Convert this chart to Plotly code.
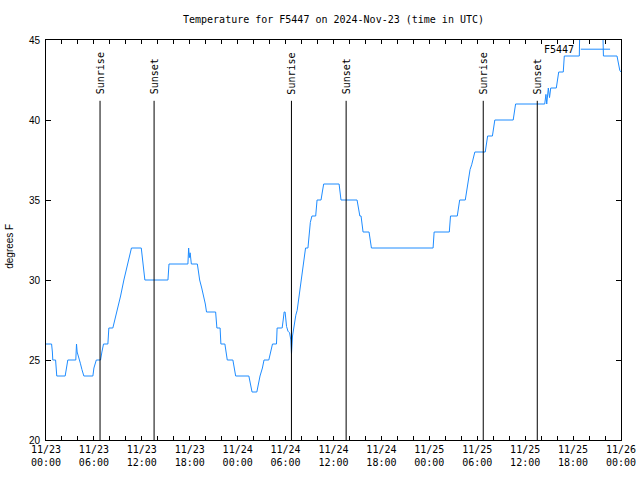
import pandas as pd
import plotly.graph_objects as go

START = "2024-11-23 00:00"
END = "2024-11-26 00:00"

# hours after 2024-11-23 00:00 UTC
hours = [0.0, 0.7, 0.8, 0.85, 1.2, 1.35, 2.4, 2.55, 2.73, 3.73,
         3.82, 3.9, 4.1, 4.3, 4.5, 4.74, 5.87, 6.0, 6.3, 6.83,
         7.0, 7.2, 7.75, 7.87, 8.37, 8.87, 9.34, 9.75, 10.2, 10.7,
         11.93, 12.1, 12.2, 12.38, 15.27, 15.4, 17.77, 17.86, 17.95, 18.05,
         18.2, 18.95, 19.1, 19.24, 19.5, 19.74, 19.95, 20.1, 21.24, 21.4,
         21.8, 21.9, 22.4, 22.7, 23.4, 23.75, 25.4, 25.8, 26.4, 26.6,
         26.8, 27.1, 27.3, 27.9, 28.24, 28.36, 28.86, 28.94, 29.49, 29.57,
         29.7, 29.82, 29.94, 30.03, 30.12, 30.3, 30.5, 30.66, 30.74, 30.87,
         31.03, 31.28, 31.45, 31.7, 32.0, 32.3, 32.5, 32.8, 32.95, 33.1,
         33.3, 33.77, 33.94, 34.44, 34.6, 34.77, 36.7, 36.94, 38.95, 39.1,
         39.3, 39.45, 39.7, 40.45, 40.75, 48.47, 48.6, 50.5, 50.65, 51.5,
         51.8, 52.5, 52.8, 53.1, 53.3, 53.5, 53.7, 55.0, 55.3, 55.9,
         56.2, 58.5, 58.8, 62.45, 62.6, 62.7, 62.8, 62.9, 63.05, 63.2,
         63.9, 64.2, 64.77, 64.9, 66.78, 66.85, 69.7, 69.8, 71.5, 71.7,
         71.85, 72.0]
temps = [26, 26, 25.5, 25, 25, 24, 24, 24.5, 25, 25,
         26, 25.5, 25.2, 24.8, 24.4, 24, 24, 24.5, 25, 25,
         25.5, 26, 26, 27, 27, 28, 29, 30, 31, 32,
         32, 31.3, 31, 30, 30, 31, 31, 32, 31.4, 31.7,
         31, 31, 30.5, 30, 29.5, 29, 28.5, 28, 28, 27,
         27, 26, 26, 25, 25, 24, 24, 23, 23, 23.5,
         24, 24.5, 25, 25, 25.7, 26, 26, 27, 27, 27,
         27.5, 28, 28, 27.5, 27.1, 26.8, 26.7, 26.25, 25.4, 26.5,
         27.1, 27.8, 28.1, 29, 30.1, 31, 32, 32, 33, 33.6,
         34, 34, 35, 35, 35.5, 36, 36, 35, 35, 34.5,
         34, 34, 33, 33, 32, 32, 33, 33, 34, 34,
         35, 35, 36, 36.9, 37.2, 37.6, 38, 38, 39, 39,
         40, 40, 41, 41, 41.6, 41, 41.6, 42, 41.4, 42,
         42, 43, 43, 44, 44, 46, 46, 44, 44, 43.5,
         43.1, 43]

sun_times = ["2024-11-23 06:46", "2024-11-23 13:32",
             "2024-11-24 06:44", "2024-11-24 13:35",
             "2024-11-25 06:45", "2024-11-25 13:31"]
sun_labels = ["Sunrise", "Sunset", "Sunrise", "Sunset", "Sunrise", "Sunset"]

y_ticks = [20, 25, 30, 35, 40, 45]
series_name = "F5447"

MONO = "DejaVu Sans Mono"
SANS = "Liberation Sans"
LINE_COLOR = "#1e8cff"

FIG_W, FIG_H = 640, 480

times = pd.Timestamp(START) + pd.to_timedelta(hours, unit="h")

fig = go.Figure()
fig.add_trace(go.Scatter(x=times, y=temps, mode="lines",
                         line=dict(color=LINE_COLOR, width=1),
                         showlegend=False, hoverinfo="skip"))

for t, lab in zip(sun_times, sun_labels):
    fig.add_shape(type="line", xref="x", yref="y", x0=t, x1=t, y0=20, y1=41.2,
                  line=dict(color="black", width=1))
    fig.add_annotation(x=t, y=41.55, xref="x", yref="y", text=lab, textangle=-90,
                       showarrow=False, xanchor="center", yanchor="bottom",
                       borderpad=0,
                       font=dict(family=MONO, size=10, color="black"))

# legend (text left, sample line right, as in reference)
fig.add_annotation(x=0.921, y=0.977, xref="paper", yref="paper", text=series_name,
                   showarrow=False, xanchor="right", yanchor="middle",
                   font=dict(family=MONO, size=10, color="black"))
fig.add_shape(type="line", xref="paper", yref="paper", x0=0.930, x1=0.981,
              y0=0.977, y1=0.977, line=dict(color=LINE_COLOR, width=1))

# y axis title
fig.add_annotation(x=-0.0626, y=0.483, xref="paper", yref="paper", text="degrees F",
                   textangle=-90, showarrow=False, xanchor="center", yanchor="middle",
                   font=dict(family=SANS, size=10, color="black"))

fig.update_layout(
    width=FIG_W, height=FIG_H,
    margin=dict(l=46, r=19, t=40, b=40, pad=0),
    paper_bgcolor="white", plot_bgcolor="white",
    font=dict(color="black"),
    title=dict(text="Temperature for F5447 on 2024-Nov-23 (time in UTC)",
               x=0.5, xref="paper", xanchor="center",
               y=1 - 19 / FIG_H, yanchor="middle", automargin=False,
               font=dict(family=MONO, size=10, color="black")),
    xaxis=dict(type="date", range=[START, END], automargin=False,
               showline=True, linecolor="black", linewidth=1, mirror="ticks",
               ticks="inside", ticklen=4, tickcolor="black", tickwidth=1,
               tick0=START, dtick=6 * 3600 * 1000,
               tickformat="%m/%d<br>%H:%M", ticklabeloverflow="allow",
               minor=dict(tick0=START, dtick=2 * 3600 * 1000, ticks="inside",
                          ticklen=4, tickcolor="black", tickwidth=1),
               showgrid=False, zeroline=False,
               tickfont=dict(family=MONO, size=10, color="black")),
    yaxis=dict(range=[20, 45], tickvals=y_ticks, automargin=False,
               showline=True, linecolor="black", linewidth=1, mirror="ticks",
               ticks="inside", ticklen=5, tickcolor="black", tickwidth=1,
               ticklabelstandoff=3,
               showgrid=False, zeroline=False,
               tickfont=dict(family=SANS, size=10, color="black")),
)

# remove the browser's default 8px page margin so the 640x480 figure fills the window
fig.write_html("out.html",
               config={"displayModeBar": False, "staticPlot": True},
               post_script="document.body.style.margin='0';document.body.style.overflow='hidden';")
